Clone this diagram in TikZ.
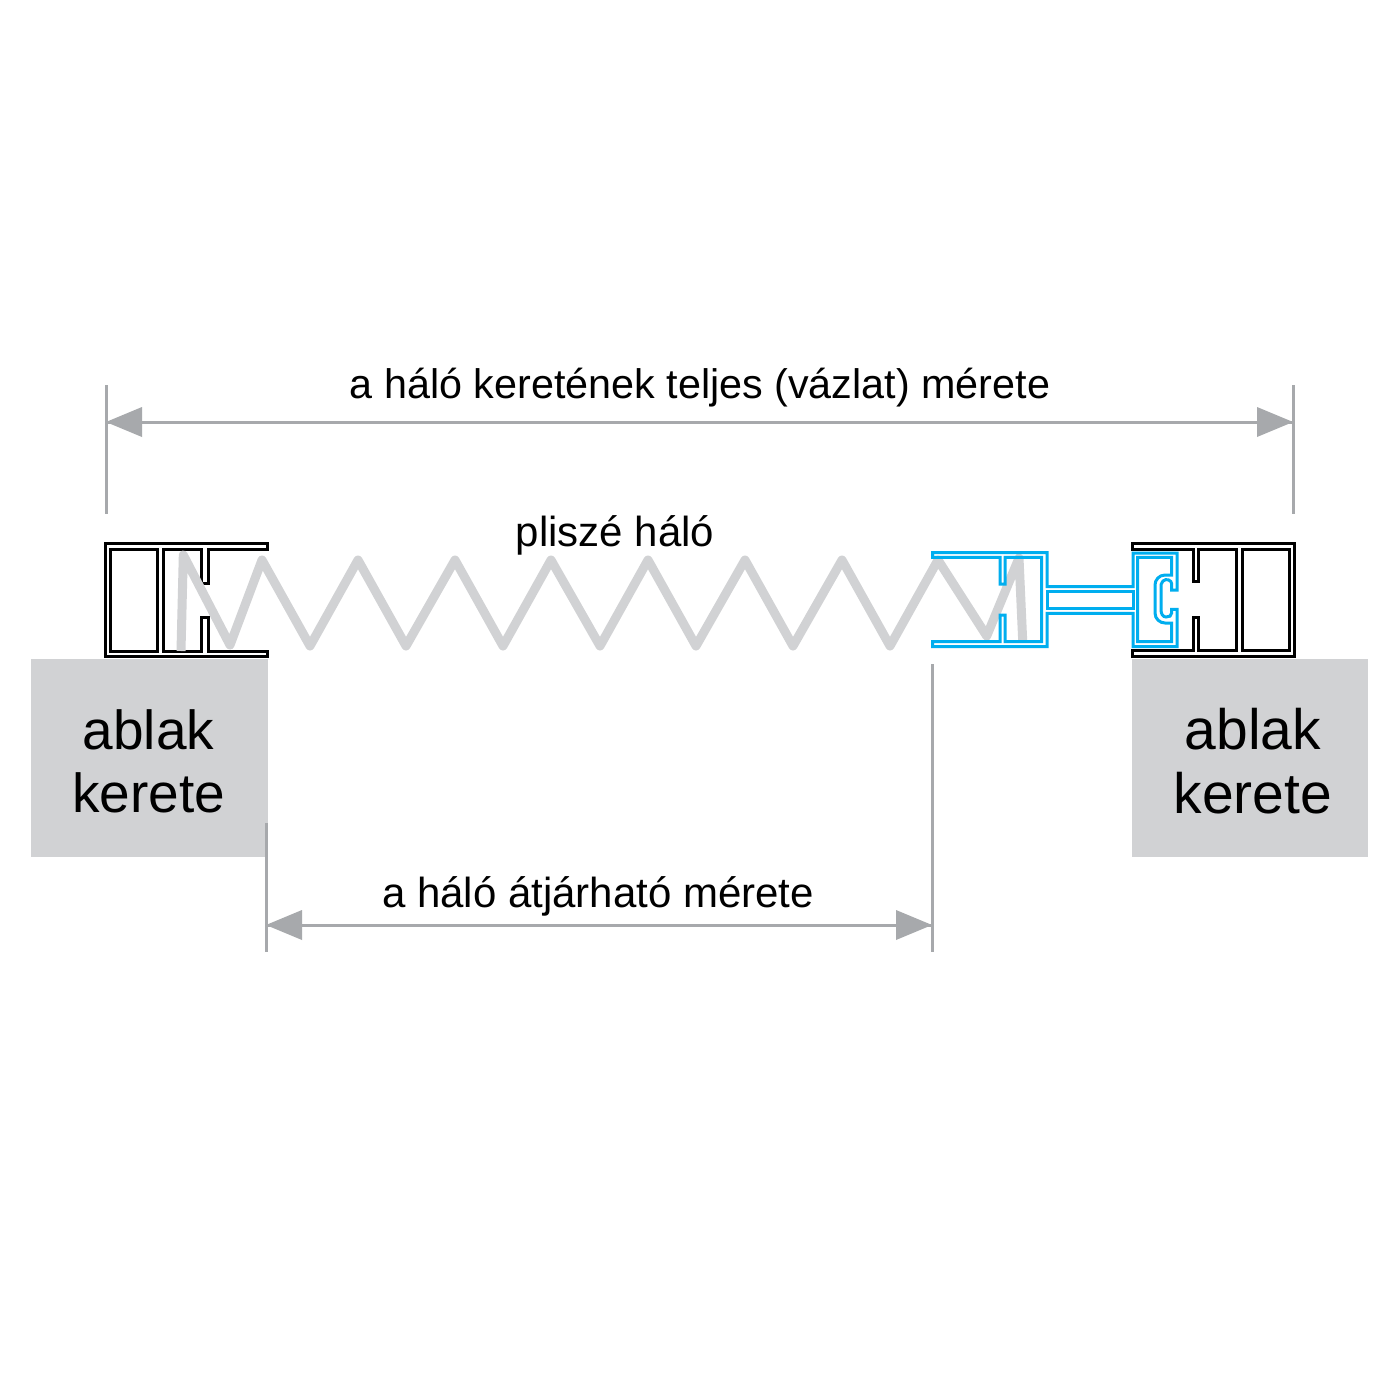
\documentclass[tikz,border=0pt]{standalone}
\usepackage{fontspec}
\setmainfont{Liberation Sans}
\definecolor{gbox}{HTML}{D1D2D4}
\definecolor{dimc}{HTML}{A7A9AC}
\definecolor{bl}{HTML}{00AEEF}
\tikzset{
 prof/.style={draw=black,line width=3pt,line join=miter,fill=white},
 bprof/.style={draw=bl,line width=3pt,line join=miter},
 mesh/.style={draw=gbox,line width=9pt,line join=round,line cap=butt},
 wit/.style={draw=dimc,line width=3pt},
 dimline/.style={draw=dimc,line width=3pt},
 head/.style={fill=dimc,draw=none},
 lab/.style={anchor=base,inner sep=0pt,text=black},
 big/.style={anchor=base,inner sep=0pt,text=black},
}
\begin{document}
\begin{tikzpicture}[x=1pt,y=-1pt]
\useasboundingbox (0,0) rectangle (1400,1400);
\fill[white] (0,0) rectangle (1400,1400);
% window frames
\fill[gbox] (31,659) rectangle (268,857);
\fill[gbox] (1132,659) rectangle (1368,857);
\node[big,font=\fontsize{55}{55}\selectfont] (wl1) at (148.5,749) {ablak};
\node[big,font=\fontsize{55}{55}\selectfont] (wl2) at (148.5,812) {kerete};
\node[big,font=\fontsize{57}{57}\selectfont] (wr1) at (1253,749) {ablak};
\node[big,font=\fontsize{57}{57}\selectfont] (wr2) at (1253,813) {kerete};
% left profile
\draw[prof] (105.5,543.5) -- (267.5,543.5) -- (267.5,549) -- (208,549) -- (208,583) -- (201,583) -- (201,549) -- (163,549) -- (163,651) -- (201,651) -- (201,617) -- (208,617) -- (208,651) -- (267.5,651) -- (267.5,656) -- (105.5,656) -- cycle;
\draw[prof] (110.8,549) rectangle (157.5,651);
% right profile
\draw[prof] (1132.5,543.5) -- (1294.5,543.5) -- (1294.5,656) -- (1132.5,656) -- (1132.5,650.7) -- (1193.3,650.7) -- (1193.3,617.3) -- (1198.3,617.3) -- (1198.3,650.7) -- (1236.7,650.7) -- (1236.7,549.3) -- (1198.3,549.3) -- (1198.3,581.7) -- (1193.3,581.7) -- (1193.3,549.3) -- (1132.5,549.3) -- cycle;
\draw[prof] (1242.3,549.3) rectangle (1289,650.7);
% mesh
\draw[mesh] (181,651) -- (183.3,555) -- (230,645) -- (262,560) -- (310,646) -- (358,560) -- (406,646) -- (455,560) -- (503,646) -- (551,560) -- (600,646) -- (648,560) -- (696,646) -- (745,560) -- (793,646) -- (842,560) -- (890,646) -- (938,560) -- (986.7,636) -- (1019,558) -- (1022.7,641);
% blue profile
\draw[bprof] (932.5,552.5) -- (1047,552.5) -- (1047,586.5) -- (1133,586.5) -- (1133,553) -- (1177,553) -- (1177,590) -- (1171.7,590) -- (1171.7,584) .. controls (1171.7,580) and (1166,578) .. (1163,581) .. controls (1161,583) and (1161,585) .. (1161,587) -- (1161,610) .. controls (1161,614) and (1163,617) .. (1166,617) .. controls (1169,617) and (1171.7,616) .. (1171.7,613) -- (1171.7,609.3) -- (1177,609.3) -- (1177,646.5) -- (1133,646.5) -- (1133,613.3) -- (1047,613.3) -- (1047,646.5) -- (932.5,646.5) -- (932.5,641.7) -- (1000,641.7) -- (1000,615) -- (1005,615) -- (1005,641.7) -- (1041.7,641.7) -- (1041.7,557.3) -- (1005,557.3) -- (1005,584) -- (1000,584) -- (1000,557.3) -- (932.5,557.3) -- cycle;
\draw[bprof] (1047,591.7) rectangle (1133,608.3);
\draw[bprof] (1137.5,557.3) -- (1171.7,557.3) -- (1171.7,575) -- (1165,575) .. controls (1159,575) and (1155,580) .. (1155,585) -- (1155,613) .. controls (1155,619) and (1160,623) .. (1165,623) -- (1171.7,623) -- (1171.7,641.7) -- (1137.5,641.7) -- cycle;
% dimensions
\coordinate (t1) at (106,385); \coordinate (t2) at (106,514);
\coordinate (t3) at (1293,385); \coordinate (t4) at (1293,514);
\coordinate (b1) at (266,823); \coordinate (b2) at (266,952);
\coordinate (b3) at (932,664); \coordinate (b4) at (932,952);
\draw[wit] (t1) -- (t2);
\draw[wit] (t3) -- (t4);
\draw[wit] (b1) -- (b2);
\draw[wit] (b3) -- (b4);
\coordinate (al) at (106,422); \coordinate (ar) at (1293,422);
\coordinate (cl) at (266,925); \coordinate (cr) at (932,925);
\draw[dimline] (al) -- (ar);
\draw[dimline] (cl) -- (cr);
\fill[head] (al) -- ++(36,-15) -- ++(0,30) -- cycle;
\fill[head] (ar) -- ++(-36,-15) -- ++(0,30) -- cycle;
\fill[head] (cl) -- ++(36,-15) -- ++(0,30) -- cycle;
\fill[head] (cr) -- ++(-36,-15) -- ++(0,30) -- cycle;
% labels
\node[lab,font=\fontsize{41.3}{41.3}\selectfont] (lt) at (700,398.5) {a háló keretének teljes (vázlat) mérete};
\node[lab,font=\fontsize{42}{42}\selectfont] (lm) at (615,546) {plisz\'e háló};
\node[lab,font=\fontsize{42}{42}\selectfont] (lb) at (598,907) {a háló átjárható mérete};
\end{tikzpicture}
\end{document}
